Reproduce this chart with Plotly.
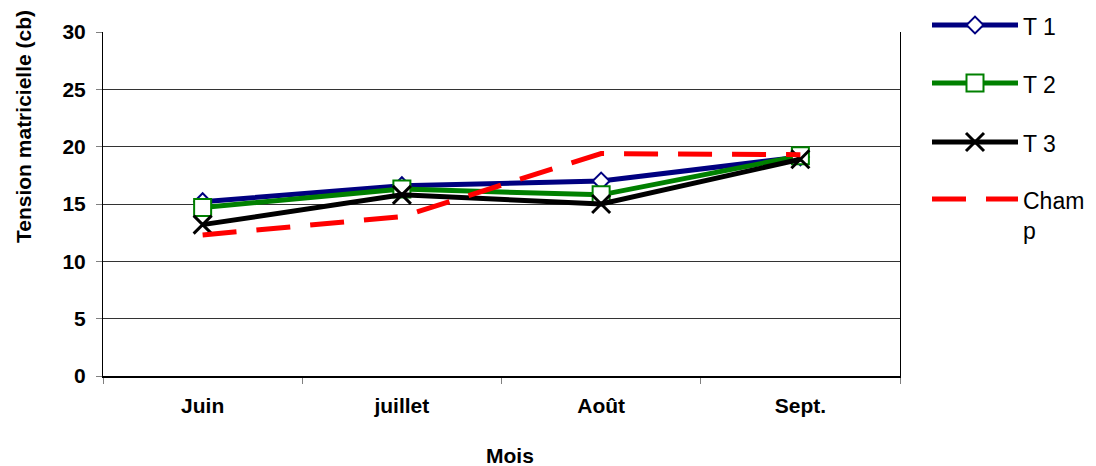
import plotly.graph_objects as go

# Monthly soil matric tension (cb) per treatment
mois = ["Juin", "juillet", "Août", "Sept."]
t1 = [15.2, 16.6, 17.0, 19.1]
t2 = [14.7, 16.3, 15.8, 19.2]
t3 = [13.2, 15.8, 15.0, 18.9]
champ = [12.3, 13.9, 19.4, 19.3]

noms = ["T 1", "T 2", "T 3", "Champ"]
y_ticks = [0, 5, 10, 15, 20, 25, 30]

W, H = 1096, 466
# plot box in pixels
PX0, PX1, PY0, PY1 = 103, 900, 32, 376

NAVY, GREEN, BLACK, RED = "#000080", "#008000", "#000000", "#FF0000"
FONT = "Liberation Sans, Arial, sans-serif"

styles = [
    dict(line=dict(color=NAVY, width=5),
         marker=dict(symbol="diamond", size=13, color="white",
                     line=dict(color=NAVY, width=2))),
    dict(line=dict(color=GREEN, width=5),
         marker=dict(symbol="square", size=17, color="white",
                     line=dict(color=GREEN, width=2))),
    dict(line=dict(color=BLACK, width=5),
         marker=dict(symbol="x-thin", size=18, color=BLACK,
                     line=dict(color=BLACK, width=3))),
    dict(line=dict(color=RED, width=5, dash="34px,20px"),
         marker=None),
]

fig = go.Figure()
for serie, nom, st in zip([t1, t2, t3, champ], noms, styles):
    kw = dict(x=mois, y=serie, name=nom, showlegend=False,
              xaxis="x", yaxis="y", line=st["line"])
    if st["marker"] is not None:
        fig.add_trace(go.Scatter(mode="lines+markers", marker=st["marker"], **kw))
    else:
        fig.add_trace(go.Scatter(mode="lines", **kw))

# Legend keys drawn on an overlay axis measured in pixels
leg_y = [25, 83, 142, 199]
for nom, st, ly in zip(noms, styles, leg_y):
    fig.add_trace(go.Scatter(x=[932, 1018], y=[ly, ly], mode="lines",
                             line=st["line"], xaxis="x2", yaxis="y2",
                             showlegend=False, hoverinfo="skip"))
    if st["marker"] is not None:
        fig.add_trace(go.Scatter(x=[975], y=[ly], mode="markers",
                                 marker=st["marker"], xaxis="x2", yaxis="y2",
                                 showlegend=False, hoverinfo="skip"))

annotations = []
for nom, ly in zip(noms, leg_y):
    txt = "Cham<br>p" if nom == "Champ" else nom
    annotations.append(dict(x=1021, y=ly + (17 if nom == "Champ" else 2),
                            xref="x2", yref="y2", text=txt, showarrow=False,
                            xanchor="left", yanchor="middle", align="left",
                            font=dict(family=FONT, size=23, color="black")))

annotations.append(dict(x=23, y=127, xref="x2", yref="y2",
                        text="<b>Tension matricielle (cb)</b>", textangle=-90,
                        showarrow=False, font=dict(family=FONT, size=21, color="black")))
annotations.append(dict(x=510, y=455, xref="x2", yref="y2",
                        text="<b>Mois</b>", showarrow=False,
                        font=dict(family=FONT, size=21, color="black")))

fig.update_layout(
    width=W, height=H,
    margin=dict(l=0, r=0, t=0, b=0, pad=0, autoexpand=False),
    paper_bgcolor="white", plot_bgcolor="rgba(0,0,0,0)",
    font=dict(family=FONT, color="black"),
    xaxis=dict(domain=[PX0 / W, PX1 / W], type="category",
               range=[-0.5, 3.5], tickson="boundaries",
               tickmode="array", tickvals=mois,
               ticktext=[f"<b>{m}</b>" for m in mois],
               ticks="outside", ticklen=6, tickcolor="#808080", tickwidth=1,
               showgrid=False, showline=True, linecolor="black", linewidth=2,
               tickfont=dict(family=FONT, size=21, color="black"),
               ticklabelstandoff=10, anchor="y", automargin=False),
    yaxis=dict(domain=[1 - PY1 / H, 1 - PY0 / H], range=[0, 30],
               tickvals=y_ticks, ticktext=[f"<b>{v}</b>" for v in y_ticks],
               ticks="outside", ticklen=6, tickcolor="#808080", tickwidth=1,
               showgrid=True, gridcolor="#333333", gridwidth=1,
               showline=True, linecolor="black", linewidth=1, mirror=True,
               zeroline=False, anchor="x", automargin=False,
               tickfont=dict(family=FONT, size=21, color="black"),
               ticklabelstandoff=6),
    xaxis2=dict(domain=[0, 1], range=[0, W], visible=False, fixedrange=True,
                anchor="y2", automargin=False),
    yaxis2=dict(domain=[0, 1], range=[H, 0], visible=False, fixedrange=True,
                anchor="x2", automargin=False),
    annotations=annotations,
    showlegend=False,
)

fig.write_html("out.html")
